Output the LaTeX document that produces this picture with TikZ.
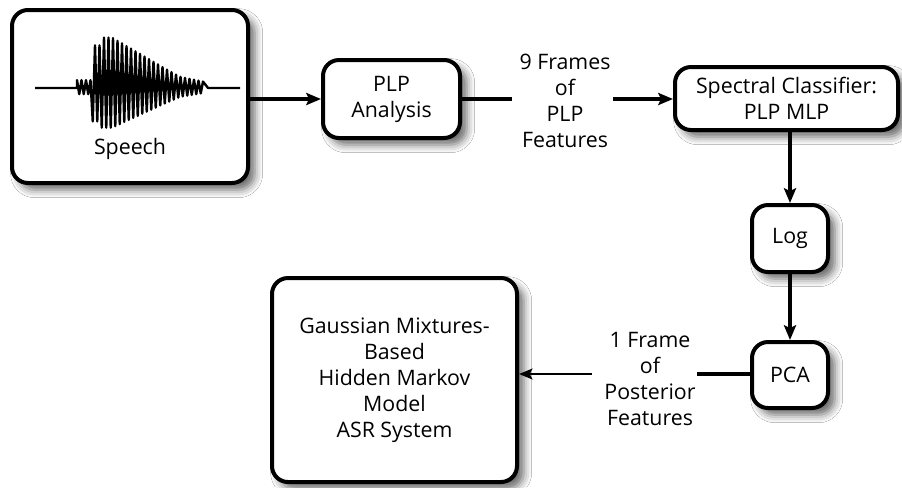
\documentclass[tikz,border=0pt]{standalone}
\usepackage{fontspec}
\setmainfont{Open Sans}
\usetikzlibrary{arrows.meta,shadows.blur}

% envelope of the speech burst (pixel units)
\tikzset{declare function={wenv(\t)=ifthenelse(\t<92,7,ifthenelse(\t<100,38,ifthenelse(\t<112,45,ifthenelse(\t<160,45-(\t-112)*25/48,ifthenelse(\t<180,20-(\t-160)*0.5,10-(\t-180)*5/27)))));}}

\begin{document}
\begin{tikzpicture}[x=0.75pt,y=-0.75pt,
  lbl/.style={font=\fontsize{16}{19.5}\selectfont, align=center},
  box/.style={lbl, draw=black, line width=3pt, rounded corners=12pt, fill=white, inner sep=0pt,
    blur shadow={shadow xshift=5pt, shadow yshift=-5pt, shadow blur radius=6pt, shadow opacity=60}},
  conn/.style={line width=3.4pt},
  arr/.style={conn, -{Stealth[length=11pt,width=9pt,inset=2pt]}},
  thinarr/.style={line width=2.2pt, -{Stealth[length=10pt,width=8pt,inset=2pt]}}
]
\path[use as bounding box, fill=white] (0,0) rectangle (902,487);

% boxes
\node[box, minimum width=177pt, minimum height=129.75pt] (speech) at (130,96.5) {};
\node[box, minimum width=102.75pt, minimum height=58.5pt] (plp) at (391.5,99) {PLP\\Analysis};
\node[box, minimum width=167.25pt, minimum height=47.25pt] (spec) at (786.5,98.5) {Spectral Classifier:\\PLP MLP};
\node[box, minimum width=57pt, minimum height=50.25pt] (log) at (790,238.5) {Log};
\node[box, minimum width=57pt, minimum height=49.5pt] (pca) at (790,375) {PCA};
\node[box, minimum width=183.75pt, minimum height=153pt] (gmm) at (394.5,380) {Gaussian Mixtures-\\Based\\Hidden Markov\\Model\\ASR System};

% speech waveform and caption
\draw[line width=1.8pt, line join=round] (35,88) -- (77,88)
  -- plot[samples at={77,79.25,...,205}] (\x,{88-0.12*wenv(\x)-wenv(\x)*cos(80*(\x-77))})
  -- (208,88) -- (240,88);
\node[lbl] (speechlbl) at (130,149) {Speech};

% free labels between stages
\node[lbl] (feat9) at (565,100.5) {9 Frames\\of\\PLP\\Features};
\node[lbl] (post) at (650,378.5) {1 Frame\\of\\Posterior\\Features};

% connector ends
\coordinate (f9in) at (512,99);
\coordinate (f9out) at (613,99);
\coordinate (pin) at (697,374);
\coordinate (pout) at (592,374);

% connectors
\draw[arr] (speech.east |- plp.west) -- (plp.west);
\draw[conn] (plp.east) -- (f9in);
\draw[arr] (f9out) -- (f9out -| spec.west);
\draw[arr] (log.north |- spec.south) -- (log.north);
\draw[arr] (log.south) -- (pca.north);
\draw[conn] (pca.west |- pin) -- (pin);
\draw[thinarr] (pout) -- (pout -| gmm.east);
\end{tikzpicture}
\end{document}
